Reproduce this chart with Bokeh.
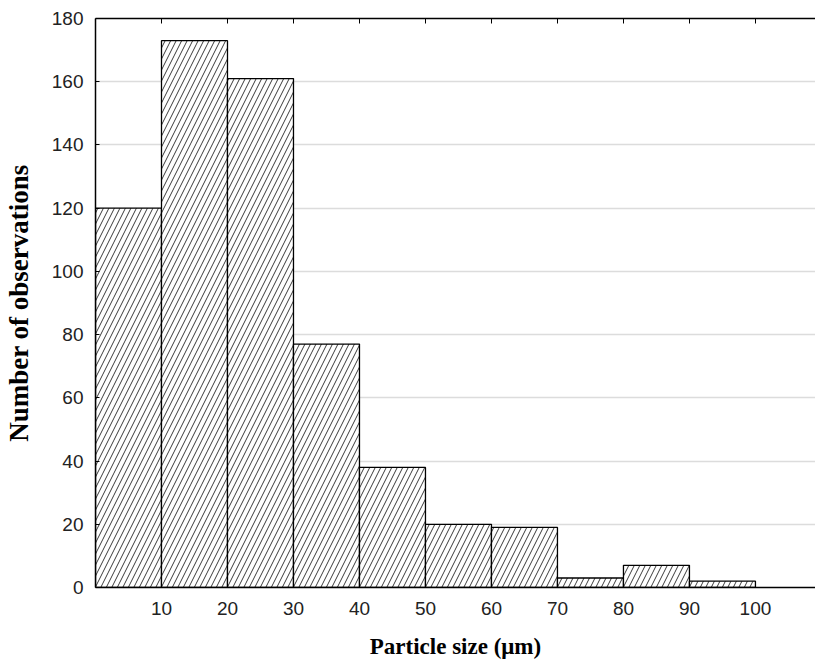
from bokeh.plotting import figure
from bokeh.models import LinearAxis, FixedTicker, ColumnDataSource
from bokeh.embed import file_html
from bokeh.resources import INLINE

bin_left = [0, 10, 20, 30, 40, 50, 60, 70, 80, 90]
bin_right = [10, 20, 30, 40, 50, 60, 70, 80, 90, 100]
counts = [120, 173, 161, 77, 38, 20, 19, 3, 7, 2]
x_ticks = [10, 20, 30, 40, 50, 60, 70, 80, 90, 100]
y_ticks = [0, 20, 40, 60, 80, 100, 120, 140, 160, 180]

src = ColumnDataSource(dict(left=bin_left, right=bin_right, top=counts,
                            bottom=[0] * len(counts)))

p = figure(width=815, height=668, output_backend="svg", toolbar_location=None,
           x_range=(0, 109.1), y_range=(0, 180),
           x_axis_label="Particle size (\u03bcm)",
           y_axis_label="Number of observations",
           min_border_left=95, min_border_right=0, min_border_top=18,
           min_border_bottom=81)
p.outline_line_color = None
p.background_fill_color = "white"
p.border_fill_color = "white"

p.quad(left="left", right="right", top="top", bottom="bottom", source=src,
       fill_color="white", line_color="black", line_width=1.3,
       hatch_pattern="/", hatch_color="#222222", hatch_scale=11, hatch_weight=0.9)

p.xgrid.visible = False
p.ygrid.grid_line_color = "#dcdcdc"
p.ygrid.grid_line_width = 1.5
p.ygrid.ticker = FixedTicker(ticks=y_ticks)

label_font = "Liberation Sans"
for ax in [p.xaxis[0], p.yaxis[0]]:
    ax.major_label_text_font = label_font
    ax.major_label_text_font_size = "19px"
    ax.major_label_text_color = "#222222"
    ax.axis_label_text_font = "Liberation Serif"
    ax.axis_label_text_font_style = "bold"
    ax.axis_label_text_color = "black"
    ax.axis_line_color = "black"
    ax.axis_line_width = 1.5
    ax.major_tick_in = 4
    ax.major_tick_out = 0
    ax.minor_tick_line_color = None

p.xaxis[0].axis_label_text_font_size = "23px"
p.yaxis[0].axis_label_text_font_size = "27px"
p.xaxis[0].ticker = FixedTicker(ticks=x_ticks)
p.yaxis[0].ticker = FixedTicker(ticks=y_ticks)
p.xaxis[0].major_label_standoff = 14
p.xaxis[0].axis_label_standoff = 16
p.yaxis[0].major_label_standoff = 12
p.yaxis[0].axis_label_standoff = 15

top = LinearAxis(ticker=FixedTicker(ticks=x_ticks))
top.major_label_text_font_size = "1px"
top.major_label_text_alpha = 0
top.major_label_standoff = 0
top.major_tick_in = 5
top.major_tick_out = 0
top.minor_tick_line_color = None
top.axis_line_color = "black"
top.axis_line_width = 1.5
p.add_layout(top, "above")

open("out.html", "w").write(file_html(p, INLINE))
